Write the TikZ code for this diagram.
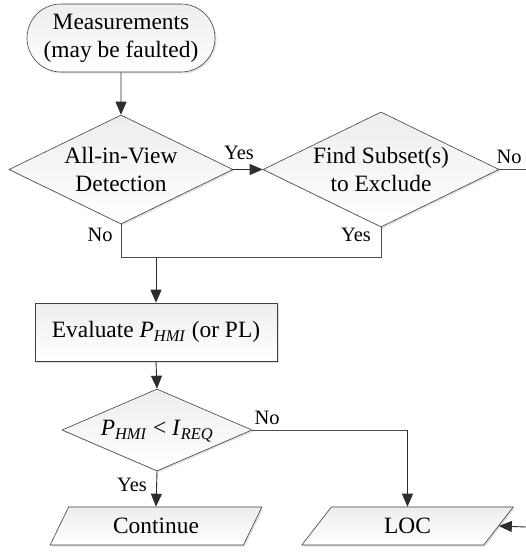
\documentclass[tikz,border=0pt]{standalone}
\usepackage{fontspec}
\setmainfont{Liberation Serif}
\usetikzlibrary{shapes.geometric,shapes.misc,arrows.meta,shadows}
\begin{document}
\begin{tikzpicture}[x=1bp,y=-1bp,
  box/.style={draw=black!75, line width=0.6bp, top color=black!7, bottom color=white,
    drop shadow={shadow xshift=1.5bp, shadow yshift=-1.5bp, fill=black!30, opacity=0.4},
    inner sep=0pt, font=\fontsize{23.5}{28}\selectfont, align=center},
  decision/.style={box, diamond, aspect=2},
  iobox/.style={box, trapezium, trapezium left angle=60, trapezium right angle=120,
    trapezium stretches=true, minimum width=212bp, minimum height=38bp},
  txt/.style={inner sep=0pt, font=\fontsize{23.5}{28}\selectfont, align=center},
  lbl/.style={inner sep=0pt, font=\fontsize{20.5}{24}\selectfont},
  conn/.style={draw=black!70, line width=0.9bp},
  arr/.style={conn, -{Triangle[length=13bp 0 0,width=11bp 0 0]}, draw=black!82}
]
\useasboundingbox (0,0) rectangle (526,558);

% terminal
\node[box, rounded rectangle, minimum width=188bp, minimum height=68bp] (meas) at (121,38)
  {Measurements\\(may be faulted)};

% decisions
\node[decision, minimum width=224bp, minimum height=109bp] (d1) at (121,169.5) {};
\node[txt] (d1t) at (d1.center) {All-in-View\\Detection};
\node[decision, minimum width=236bp, minimum height=115bp] (d2) at (381,169.5) {};
\node[txt] (d2t) at (d2.center) {Find Subset(s)\\to Exclude};

% process
\node[box, rectangle, minimum width=242bp, minimum height=58bp] (eval) at (156,332)
  {Evaluate \textit{P}\textsubscript{\textit{HMI}} (or PL)};

\node[decision, minimum width=190bp, minimum height=82bp] (d3) at (157,430) {};
\node[txt] (d3t) at ([yshift=-1bp]d3.center) {\textit{P}\textsubscript{\textit{HMI}} {<} \textit{I}\textsubscript{\textit{REQ}}};

% outputs
\node[iobox] (cont) at (156,526) {Continue};
\node[iobox] (loc) at (407.5,526) {LOC};

% coordinates
\coordinate (join) at (156,257);
\coordinate (d1b) at (121,257);
\coordinate (d2b) at (381,257);
\coordinate (noEnd) at (526,169.5);
\coordinate (locIn) at (526,527);
\coordinate (d3r) at (407.5,430);

% connectors
\draw[arr] (meas) -- (d1);
\draw[arr] (d1.east) -- (d2.west);
\draw[conn] (d2.east) -- (noEnd);
\draw[conn] (d1.south) -- (d1b) -- (d2b) -- (d2.south);
\draw[arr] (join) -- (eval.north);
\draw[arr] (eval.south) -- (d3.north);
\draw[conn] (d3.east) -- (d3r);
\draw[arr] (d3r) -- (loc.north);
\draw[arr] (d3.south) -- (cont.north);
\draw[arr] (locIn) -- (loc.east);

% labels
\node[lbl] (yes1) at (239,153) {Yes};
\node[lbl] (no1) at (100,235) {No};
\node[lbl] (yes2) at (356,235) {Yes};
\node[lbl] (no2) at (509,157) {No};
\node[lbl] (no3) at (267,418) {No};
\node[lbl] (yes3) at (132,485) {Yes};
\end{tikzpicture}
\end{document}
